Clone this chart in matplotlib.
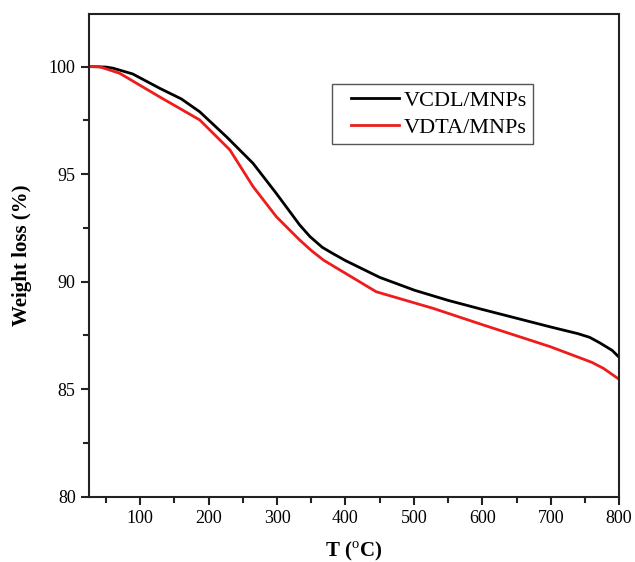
import numpy as np
from matplotlib import pyplot as plt
from matplotlib.legend_handler import HandlerLine2D

# TGA curves
t_vcdl = [25, 50, 60, 89, 128, 160, 187, 226, 265, 299, 333, 348, 366, 382,
          400, 450, 501, 550, 601, 650, 699, 740, 757, 772, 790, 800]
w_vcdl = [100, 99.98, 99.93, 99.66, 99.0, 98.5, 97.9, 96.74, 95.5, 94.1, 92.64,
          92.1, 91.6, 91.3, 90.98, 90.2, 89.6, 89.13, 88.7, 88.3, 87.9, 87.58,
          87.41, 87.15, 86.8, 86.48]

t_vdta = [25, 40, 70, 128, 187, 231, 265, 299, 333, 350, 368, 392, 445, 528,
          601, 699, 760, 777, 800]
w_vdta = [100, 100, 99.69, 98.6, 97.52, 96.13, 94.42, 93.02, 91.94, 91.45,
          91.0, 90.54, 89.53, 88.76, 87.99, 86.98, 86.25, 85.97, 85.46]

labels = ['VCDL/MNPs', 'VDTA/MNPs']


class IndentHandler(HandlerLine2D):
    # legend line drawn only on the right part of the handle box
    def get_xdata(self, legend, xdescent, ydescent, width, height, fontsize):
        x0 = -xdescent + 0.22 * width
        x1 = -xdescent + width
        return [x0, x1], [(x0 + x1) / 2]


plt.rcParams['font.family'] = ['Liberation Serif', 'DejaVu Serif']
plt.rcParams['mathtext.fontset'] = 'custom'
plt.rcParams['mathtext.rm'] = 'Liberation Serif'
plt.rcParams['mathtext.bf'] = 'Liberation Serif:bold'

fig = plt.figure(figsize=(6.35, 5.62), dpi=100)
ax = fig.add_axes([0.140, 0.1162, 0.835, 0.859])

l1, = ax.plot(t_vcdl, w_vcdl, color='black', lw=2, label=labels[0])
l2, = ax.plot(t_vdta, w_vdta, color='#ee1c1c', lw=2, label=labels[1])

ax.set_xlim(25, 800)
ax.set_ylim(80, 102.45)
ax.set_xticks([100, 200, 300, 400, 500, 600, 700, 800])
ax.set_xticks(np.arange(50, 800, 100), minor=True)
ax.set_yticks([80, 85, 90, 95, 100])
ax.set_yticks([82.5, 87.5, 92.5, 97.5], minor=True)
ax.tick_params(which='both', direction='out', width=1.5, colors='#222222',
               top=False, right=False)
ax.tick_params(which='major', length=6, labelsize=13, labelcolor='black')
ax.tick_params(which='minor', length=4)
for s in ax.spines.values():
    s.set_linewidth(1.5)
    s.set_color('#222222')

ax.set_xlabel(r'T ($^{\mathrm{o}}$C)', fontsize=15, fontweight='bold', labelpad=9)
ax.set_ylabel('Weight loss (%)', fontsize=15, fontweight='bold', labelpad=12)

leg = ax.legend(handles=[l1, l2], loc='upper left', bbox_to_anchor=(0.458, 0.855),
                fontsize=16, fancybox=False, edgecolor='#555555', framealpha=1,
                handlelength=2.75, handletextpad=0.2, borderpad=0.28,
                labelspacing=0.3, borderaxespad=0,
                handler_map={l1: IndentHandler(), l2: IndentHandler()})
leg.get_frame().set_linewidth(1.0)

fig.savefig('out.png', dpi=100)
